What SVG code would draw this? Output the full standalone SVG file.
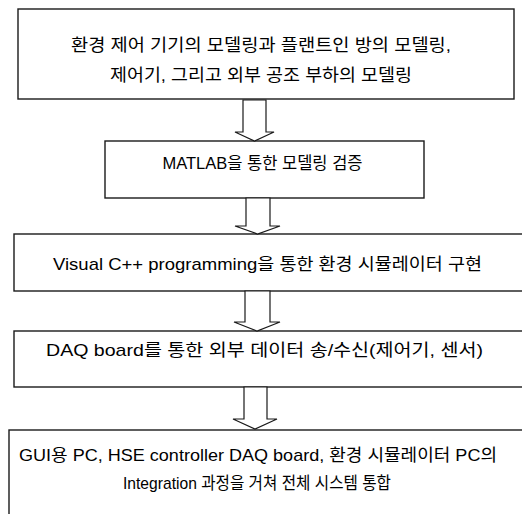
<svg xmlns="http://www.w3.org/2000/svg" width="522" height="514" viewBox="0 0 522 514">
<style>
.box{fill:#fff;stroke:#1a1a1a;stroke-width:1.4}
.arr{fill:#fff;stroke:#1a1a1a;stroke-width:1.2;stroke-linejoin:miter}
text{font-family:"Liberation Sans","Noto Sans CJK KR",sans-serif;font-size:17px;fill:#000;text-anchor:middle}
</style>
<rect width="522" height="514" fill="#fff"/>
<g id="node1">
<rect class="box" x="18" y="9" width="496" height="90"/>
<text x="261" y="51" textLength="380" lengthAdjust="spacingAndGlyphs">환경 제어 기기의 모델링과 플랜트인 방의 모델링,</text>
<text x="261" y="81" textLength="302" lengthAdjust="spacingAndGlyphs">제어기, 그리고 외부 공조 부하의 모델링</text>
</g>
<g id="node2">
<rect class="box" x="105" y="141" width="319" height="57"/>
<text x="262.5" y="169" textLength="200" lengthAdjust="spacingAndGlyphs">MATLAB을 통한 모델링 검증</text>
</g>
<g id="node3">
<rect class="box" x="14" y="234" width="512" height="57"/>
<text x="267.5" y="270" textLength="429" lengthAdjust="spacingAndGlyphs">Visual C++ programming을 통한 환경 시뮬레이터 구현</text>
</g>
<g id="node4">
<rect class="box" x="14" y="331" width="512" height="56"/>
<text x="264.5" y="356" textLength="437" lengthAdjust="spacingAndGlyphs">DAQ board를 통한 외부 데이터 송/수신(제어기, 센서)</text>
</g>
<g id="node5">
<rect class="box" x="9" y="430" width="517" height="100"/>
<text x="258" y="461" textLength="478" lengthAdjust="spacingAndGlyphs">GUI용 PC, HSE controller DAQ board, 환경 시뮬레이터 PC의</text>
<text x="257" y="489" textLength="268" lengthAdjust="spacingAndGlyphs">Integration 과정을 거쳐 전체 시스템 통합</text>
</g>
<g id="connectors">
<polygon class="arr" points="243,100 266,100 266,132 274,132 254.5,141 235,132 243,132"/>
<polygon class="arr" points="246,198 270,198 270,226 280,226 257.5,234 235,226 246,226"/>
<polygon class="arr" points="245,291 270,291 270,322 280,322 257,331 234,322 245,322"/>
<polygon class="arr" points="244,387 267,387 267,419 277,419 255,429 233,419 244,419"/>
</g>
</svg>
